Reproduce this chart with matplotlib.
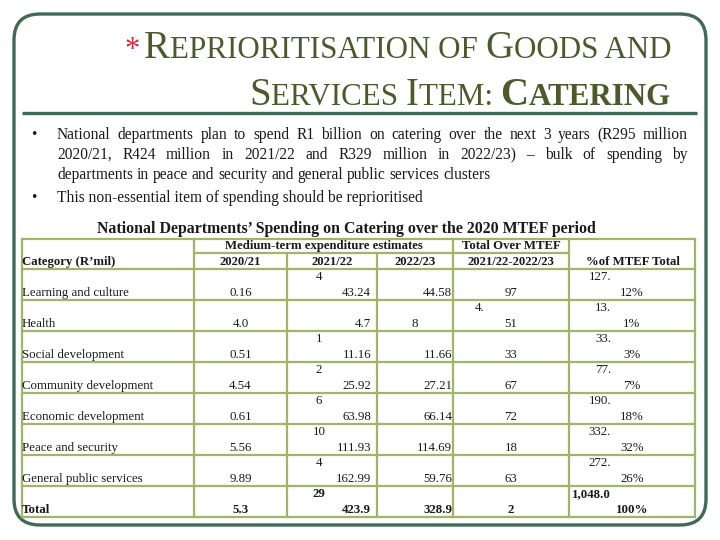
import matplotlib.pyplot as plt
from matplotlib.patches import FancyBboxPatch

# table content, as printed on the slide
categories = ["Learning and culture", "Health", "Social development", "Community development",
              "Economic development", "Peace and security", "General public services", "Total"]
y2020 = ["0.16", "4.0", "0.51", "4.54", "0.61", "5.56", "9.89", "5.3"]
y2021_top = ["4", "", "1", "2", "6", "10", "4", "29"]
y2021 = ["43.24", "4.7", "11.16", "25.92", "63.98", "111.93", "162.99", "423.9"]
y2022 = ["44.58", "8", "11.66", "27.21", "66.14", "114.69", "59.76", "328.9"]
total_top = ["", "4.", "", "", "", "", "", ""]
total = ["97", "51", "33", "67", "72", "18", "63", "2"]
pct_top = ["127.", "13.", "33.", "77.", "190.", "332.", "272.", "1,048.0"]
pct = ["12%", "1%", "3%", "7%", "18%", "32%", "26%", "100%"]

bullet1 = ["National departments plan to spend R1 billion on catering over the next 3 years (R295 million",
           "2020/21, R424 million in 2021/22 and R329 million in 2022/23) \u2013 bulk of spending by",
           "departments in peace and security and general public services clusters"]
bullet2 = "This non-essential item of spending should be reprioritised"
table_title = "National Departments\u2019 Spending on Catering over the 2020 MTEF period"

SERIF = "Liberation Serif"
FRAME = "#3d6b55"
TITLE_C = "#4c5a2b"
GRID = "#a0b46a"
TXT = "#1a1a1a"

fig = plt.figure(figsize=(7.2, 5.4), dpi=100)
ax = fig.add_axes([0, 0, 1, 1])
ax.set_xlim(0, 720)
ax.set_ylim(540, 0)
ax.axis("off")
r = fig.canvas.get_renderer()


def width(s, size, weight="normal"):
    t = ax.text(0, 0, s, fontsize=size, fontweight=weight, family=SERIF)
    w = t.get_window_extent(r).width
    t.remove()
    return w


def smallcaps(y, segs, right):
    ws = [width(s, sz, wt) for s, sz, wt, c in segs]
    x = right - sum(ws)
    for (s, sz, wt, c), w in zip(segs, ws):
        ax.text(x, y, s, fontsize=sz, fontweight=wt, color=c, family=SERIF, va="baseline")
        x += w


# slide frame
ax.add_patch(FancyBboxPatch((14, 14), 692, 511, boxstyle="round,pad=0,rounding_size=26",
                            fill=False, ec=FRAME, lw=2.4))
ax.plot([22, 697], [113, 113], color=FRAME, lw=2.4, solid_capstyle="butt")

# title in small caps
big, small = 28, 22.3
smallcaps(58, [("*", 22, "normal", "#d42a3a"), (" ", 12, "normal", TITLE_C),
               ("R", big, "normal", TITLE_C), ("EPRIORITISATION OF ", small, "normal", TITLE_C),
               ("G", big, "normal", TITLE_C), ("OODS AND", small, "normal", TITLE_C)], 671)
smallcaps(105, [("S", big, "normal", TITLE_C), ("ERVICES ", small, "normal", TITLE_C),
                ("I", big, "normal", TITLE_C), ("TEM: ", small, "normal", TITLE_C),
                ("C", big, "bold", TITLE_C), ("ATERING", small, "bold", TITLE_C)], 671)

# bullets, first paragraph justified
bsize = 11.2
x0, x1 = 57, 688
line_y = [135, 155, 175]
for i, line in enumerate(bullet1):
    words = line.split(" ")
    ws = [width(w, bsize) for w in words]
    if i < len(bullet1) - 1:
        gap = (x1 - x0 - sum(ws)) / (len(words) - 1)
    else:
        gap = width(" ", bsize)
    x = x0
    for w, wd in zip(words, ws):
        ax.text(x, line_y[i], w, fontsize=bsize, family=SERIF, color=TXT, va="center")
        x += wd + gap
ax.text(31, 135, "\u2022", fontsize=bsize, family=SERIF, color=TXT, va="center")
ax.text(31, 198, "\u2022", fontsize=bsize, family=SERIF, color=TXT, va="center")
ax.text(x0, 198, bullet2, fontsize=bsize, family=SERIF, color=TXT, va="center")

ax.text(346, 229, table_title, fontsize=11.4, fontweight="bold", family=SERIF,
        color=TXT, ha="center", va="center")

# table grid
cols = [22, 194, 287, 377, 453, 569, 695]
h_top, h_mid, h_bot = 239, 253, 269
row_h = 31
rows = [h_bot + row_h * i for i in range(len(categories) + 1)]
lw = 1.6
ax.plot([cols[0], cols[-1]], [h_top, h_top], color=GRID, lw=lw)
ax.plot([cols[1], cols[5]], [h_mid, h_mid], color=GRID, lw=lw)
for yy in rows:
    ax.plot([cols[0], cols[-1]], [yy, yy], color=GRID, lw=lw)
for i, xx in enumerate(cols):
    start = h_mid if i in (2, 3) else h_top
    ax.plot([xx, xx], [start, rows[-1]], color=GRID, lw=lw)

tsize = 9.3
hkw = dict(fontsize=9.2, fontweight="bold", family=SERIF, color=TXT, va="center")
ax.text(cols[0], 262, "Category (R\u2019mil)", ha="left", **hkw)
ax.text((cols[1] + cols[4]) / 2, 246, "Medium-term expenditure estimates", ha="center", **hkw)
ax.text((cols[1] + cols[2]) / 2, 262, "2020/21", ha="center", **hkw)
ax.text((cols[2] + cols[3]) / 2, 262, "2021/22", ha="center", **hkw)
ax.text((cols[3] + cols[4]) / 2, 262, "2022/23", ha="center", **hkw)
ax.text((cols[4] + cols[5]) / 2, 246, "Total Over MTEF", ha="center", **hkw)
ax.text((cols[4] + cols[5]) / 2, 262, "2021/22-2022/23", ha="center", **hkw)
ax.text(633, 262, "%of MTEF Total", ha="center", **hkw)

for i, cat in enumerate(categories):
    top = rows[i]
    ya, yb = top + 8, top + 24
    wt = "bold" if cat == "Total" else "normal"
    kw = dict(fontsize=tsize, fontweight=wt, family=SERIF, color=TXT, va="center")
    ax.text(cols[0], yb, cat, ha="left", **kw)
    ax.text((cols[1] + cols[2]) / 2, yb, y2020[i], ha="center", **kw)
    ax.text(319, ya, y2021_top[i], ha="center", **kw)
    ax.text(cols[3] - 6, yb, y2021[i], ha="right", **kw)
    if len(y2022[i]) > 2:
        ax.text(cols[4] - 1, yb, y2022[i], ha="right", **kw)
    else:
        ax.text((cols[3] + cols[4]) / 2, yb, y2022[i], ha="center", **kw)
    ax.text(480, ya, total_top[i], ha="center", **kw)
    ax.text((cols[4] + cols[5]) / 2, yb, total[i], ha="center", **kw)
    ax.text(611, ya, pct_top[i], ha="right", **kw)
    ax.text(632, yb, pct[i], ha="center", **kw)

fig.savefig("out.png", dpi=100, facecolor="white")
